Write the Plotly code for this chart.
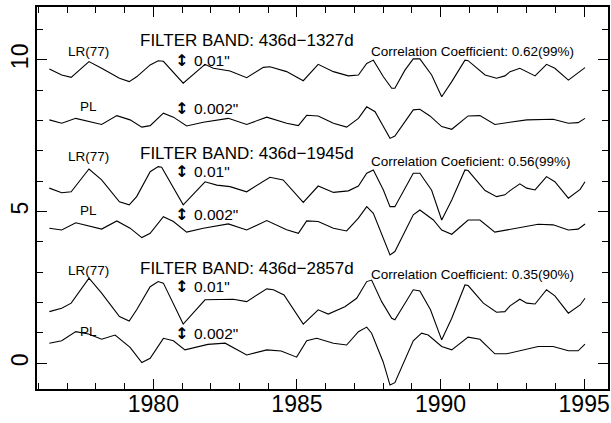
import plotly.graph_objects as go

# ---- data (years, offset values as plotted) ----
lr1_x = [1976.38,1976.81,1977.14,1977.76,1978.20,1978.82,1979.16,1979.42,1979.89,1980.17,
         1980.35,1981.04,1981.80,1982.09,1982.67,1983.25,1983.83,1984.06,1984.64,1985.22,
         1985.74,1986.27,1986.79,1987.14,1987.43,1987.66,1988.01,1988.30,1988.41,1988.76,
         1989.05,1989.28,1989.69,1990.04,1990.39,1990.85,1990.96,1991.55,1991.95,1992.24,
         1992.42,1992.76,1993.29,1993.69,1993.98,1994.45,1995.03]
lr1_y = [9.70,9.50,9.42,9.94,9.72,9.39,9.28,9.44,9.83,9.97,
         9.95,9.23,9.85,9.72,9.63,9.41,9.75,9.77,9.61,9.31,
         9.85,9.61,9.47,9.50,9.88,9.99,9.44,9.06,9.06,9.66,
         10.03,10.03,9.50,8.78,9.28,9.99,9.97,9.50,9.39,9.47,
         9.61,9.72,9.47,9.85,9.72,9.33,9.74]

pl1_x = [1976.38,1976.81,1977.30,1978.20,1978.73,1979.19,1979.60,1979.89,1980.35,1980.70,
         1981.16,1981.74,1982.61,1983.25,1983.95,1984.64,1985.05,1985.34,1985.74,1986.27,
         1986.73,1987.14,1987.43,1987.72,1988.24,1988.41,1989.05,1989.28,1989.63,1990.04,
         1990.39,1990.96,1991.37,1991.89,1993.00,1993.92,1994.45,1994.79,1995.03]
pl1_y = [8.02,7.91,8.07,7.87,8.16,8.02,7.78,7.83,8.24,8.11,
         7.82,7.94,8.07,7.87,8.11,7.91,7.83,8.17,8.15,7.91,
         7.78,8.07,8.45,8.29,7.41,7.49,8.35,8.37,8.15,7.80,
         7.71,8.15,8.16,7.87,8.02,8.04,7.91,7.93,8.07]

lr2_x = [1976.38,1976.81,1977.14,1977.76,1978.20,1978.82,1979.16,1979.42,1979.89,1980.17,
         1980.29,1981.04,1981.80,1982.21,1982.67,1983.25,1984.06,1984.52,1985.22,1985.74,
         1986.27,1986.79,1987.14,1987.43,1987.66,1988.01,1988.24,1988.41,1989.05,1989.28,
         1989.69,1990.04,1990.39,1990.85,1990.96,1991.55,1991.95,1992.24,1992.42,1992.76,
         1993.00,1993.29,1993.69,1993.98,1994.45,1994.86,1995.03]
lr2_y = [5.77,5.62,5.65,6.40,6.04,5.32,5.22,5.49,6.31,6.48,
         6.46,5.22,5.98,5.87,5.82,5.65,6.13,6.04,5.30,5.84,
         5.63,5.68,5.84,6.26,6.37,5.71,5.16,5.16,6.26,6.26,
         5.70,4.72,5.38,6.37,6.35,5.69,5.49,5.55,5.69,5.91,
         5.77,5.71,6.15,5.98,5.44,5.73,5.98]

pl2_x = [1976.38,1976.81,1977.30,1978.20,1978.73,1979.19,1979.60,1979.89,1980.35,1980.70,
         1981.16,1981.74,1982.61,1983.25,1983.95,1984.64,1985.05,1985.34,1985.74,1986.27,
         1986.73,1987.14,1987.43,1987.66,1988.24,1988.41,1989.05,1989.28,1989.75,1990.04,
         1990.39,1990.96,1991.37,1991.89,1993.40,1993.92,1994.45,1994.79,1995.03]
pl2_y = [4.45,4.39,4.63,4.42,4.69,4.45,4.14,4.28,4.83,4.67,
         4.32,4.45,4.59,4.39,4.70,4.40,4.28,4.69,4.67,4.45,
         4.36,4.78,5.16,4.94,3.57,3.68,4.89,5.05,4.72,4.39,
         4.25,4.72,4.72,4.32,4.58,4.56,4.39,4.42,4.59]

lr3_x = [1976.38,1976.81,1977.14,1977.76,1978.20,1978.82,1979.16,1979.42,1979.89,1980.17,
         1980.35,1981.04,1981.80,1982.78,1983.25,1983.95,1984.18,1984.55,1985.22,1985.74,
         1986.09,1986.67,1987.08,1987.43,1987.60,1987.95,1988.30,1988.41,1989.05,1989.28,
         1989.65,1990.04,1990.39,1990.85,1990.96,1991.49,1991.95,1992.24,1992.42,1992.76,
         1993.00,1993.29,1993.69,1993.98,1994.45,1994.86,1995.03]
lr3_y = [1.70,1.81,1.98,2.80,2.31,1.54,1.39,1.76,2.52,2.69,
         2.64,1.29,2.09,2.11,2.03,2.45,2.42,2.25,1.29,1.76,
         1.62,1.86,2.14,2.69,2.74,2.03,1.48,1.43,2.42,2.38,
         1.76,0.77,1.48,2.58,2.56,1.98,1.68,1.70,1.89,2.11,
         1.98,1.95,2.42,2.22,1.65,1.92,2.14]

pl3_x = [1976.38,1976.81,1977.30,1977.74,1978.20,1978.67,1979.19,1979.60,1979.89,1980.35,
         1980.70,1981.10,1981.90,1982.50,1983.25,1983.95,1984.45,1984.99,1985.34,1985.69,
         1986.27,1986.73,1987.14,1987.43,1987.60,1988.00,1988.24,1988.41,1989.05,1989.34,
         1989.57,1990.04,1990.39,1990.96,1991.37,1991.89,1992.30,1993.40,1993.92,1994.45,
         1994.79,1995.03]
pl3_y = [0.66,0.74,1.04,0.96,0.79,0.93,0.52,0.02,0.16,0.82,
         0.74,0.44,0.62,0.66,0.27,0.44,0.40,0.20,0.74,0.82,
         0.66,0.60,1.04,1.19,0.99,0.05,-0.72,-0.64,0.74,0.99,
         0.93,0.55,0.44,0.86,0.79,0.31,0.31,0.55,0.55,0.41,
         0.41,0.63]

bands = ["FILTER BAND: 436d\u22121327d", "FILTER BAND: 436d\u22121945d", "FILTER BAND: 436d\u22122857d"]
corrs = ["Correlation Coefficient: 0.62(99%)", "Correlation Coeficient: 0.56(99%)",
         "Correlation Coefficient: 0.35(90%)"]
band_y = [10.64, 6.90, 3.11]
corr_y = [10.29, 6.64, 2.91]
lr_lab_y = [10.26, 6.80, 3.07]
pl_lab_y = [8.46, 5.02, 1.03]
scale_lr_y = [9.99, 6.31, 2.52]
scale_pl_y = [8.40, 4.89, 0.99]

FONT = "Liberation Sans"

fig = go.Figure()
for xs, ys in [(lr1_x, lr1_y), (pl1_x, pl1_y), (lr2_x, lr2_y), (pl2_x, pl2_y),
               (lr3_x, lr3_y), (pl3_x, pl3_y)]:
    fig.add_trace(go.Scatter(x=xs, y=ys, mode="lines",
                             line=dict(color="black", width=1.1), showlegend=False,
                             hoverinfo="skip"))

ann = []
def add(text, x, y, size, xanchor="left", family=FONT):
    ann.append(dict(text=text, x=x, y=y, xref="x", yref="y", showarrow=False,
                    xanchor=xanchor, yanchor="middle",
                    font=dict(family=family, size=size, color="black")))

for i in range(3):
    add("LR(77)", 1977.73, lr_lab_y[i], 13.5, "center")
    add("PL", 1977.75, pl_lab_y[i], 13.5, "center")
    add(bands[i], 1979.45, band_y[i], 17)
    add(corrs[i], 1987.50, corr_y[i], 13.5)
    add("<b>\u2195</b>", 1980.97, scale_lr_y[i], 16, "center", "DejaVu Sans")
    add("0.01\"", 1981.36, scale_lr_y[i], 15.5)
    add("<b>\u2195</b>", 1980.97, scale_pl_y[i], 16, "center", "DejaVu Sans")
    add("0.002\"", 1981.36, scale_pl_y[i], 15.5)

axis_common = dict(showline=True, linecolor="black", linewidth=1.5, mirror="allticks",
                   ticks="inside", ticklen=10, tickwidth=1, tickcolor="black",
                   showgrid=False, zeroline=False, dtick=5, tick0=0, automargin=False,
                   minor=dict(dtick=1, ticks="inside", ticklen=6, tickwidth=1,
                              tickcolor="black", showgrid=False),
                   tickfont=dict(family=FONT, size=23, color="black"))

fig.update_layout(
    width=611, height=423,
    margin=dict(l=37, r=3, t=7, b=34),
    paper_bgcolor="white", plot_bgcolor="white",
    xaxis=dict(range=[1975.95, 1995.83], ticklabelstandoff=-6, **axis_common),
    yaxis=dict(range=[-0.85, 11.74], tickangle=-90, ticklabelstandoff=-2, **axis_common),
    annotations=ann,
)
fig.write_html("out.html", config={"displayModeBar": False},
               post_script="document.body.style.margin='0';")
